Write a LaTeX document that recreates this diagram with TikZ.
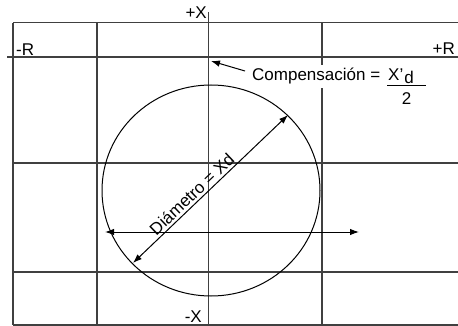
\documentclass[tikz,border=0pt]{standalone}
\usepackage{fontspec}
\setmainfont{Liberation Sans}
\usetikzlibrary{arrows.meta}
\begin{document}
\begin{tikzpicture}[x=1pt,y=-1pt,
  grid/.style={draw=black!75, line width=1.2pt},
  lbl/.style={inner sep=0pt, font=\fontsize{17}{20}\selectfont},
  arr/.style={line width=1pt, -{Latex[length=9pt,width=6.5pt]}},
  darr/.style={line width=1pt, {Latex[length=9pt,width=6.5pt]}-{Latex[length=9pt,width=6.5pt]}}]
\useasboundingbox[fill=white] (0,0) rectangle (458,326);
% grid
\draw[grid] (13,22.7) -- (458,22.7);
\draw[grid] (7,57) -- (458,57);
\draw[grid] (13,163) -- (458,163);
\draw[grid] (13,272) -- (458,272);
\draw[grid] (13,325) -- (458,325);
\draw[grid] (13,22.7) -- (13,325);
\draw[grid] (97,22.7) -- (97,325);
\draw[grid] (208.5,12) -- (208.5,325);
\draw[grid] (322,22.7) -- (322,325);
% circle
\draw[line width=1pt] (211,190.5) ellipse [x radius=109, y radius=105.5];
% labels
\node[lbl, anchor=base east] (px) at (207,19) {+X};
\node[lbl, anchor=base east] (mx) at (202,322) {-X};
\node[lbl, anchor=base west] (mr) at (16,55.5) {-R};
\node[lbl, anchor=base east] (pr) at (455,55) {+R};
\node[lbl, anchor=base west, fill=white, inner xsep=1pt, inner ysep=3pt] (comp) at (251,81) {Compensación =};
\node[lbl, anchor=base west] (num) at (388,81) {X’\kern1pt\raisebox{-3pt}{d}};
\coordinate (b1) at (387,85.5);
\coordinate (b2) at (426,85.5);
\draw[line width=1pt] (b1) -- (b2);
\node[lbl, anchor=base] (den) at (406.5,105) {2};
% compensation arrow
\coordinate (ctail) at (245,71);
\coordinate (ctip) at (211,61);
\draw[arr] (ctail) -- (ctip);
% diameter
\coordinate (d1) at (288,115);
\coordinate (d2) at (133,263);
\draw[darr] (d2) -- node[lbl, sloped, above=2.5pt, pos=0.42] (dlab) {Diámetro = Xd} (d1);
% horizontal arrow
\coordinate (h1) at (105,232);
\coordinate (h2) at (359,232);
\draw[darr] (h1) -- (h2);
\end{tikzpicture}
\end{document}
